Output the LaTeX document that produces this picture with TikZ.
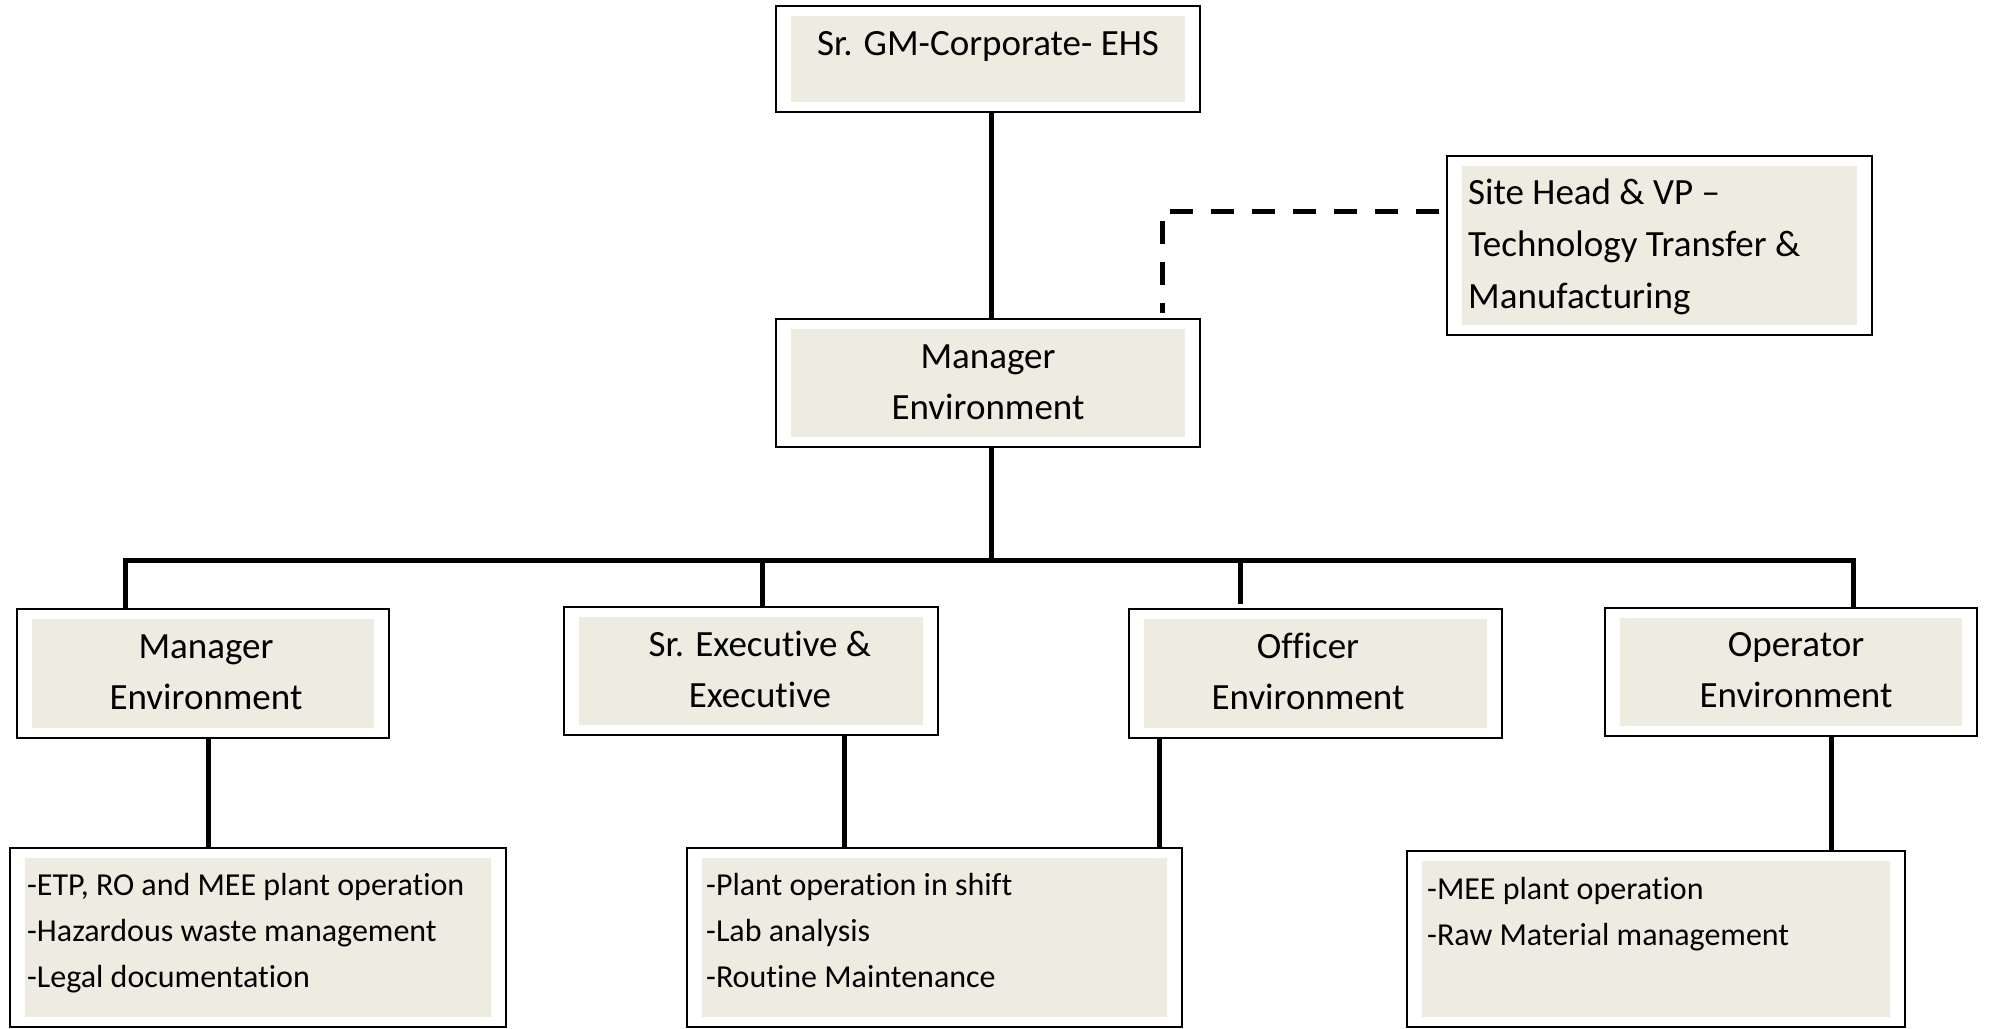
\documentclass[tikz,border=0pt]{standalone}
\usepackage{fontspec}
\setmainfont{Carlito}[Ligatures=CommonOff]
\definecolor{bg}{HTML}{EEECE1}
\newcommand\strutA{\rule{0pt}{30pt}}
\newcommand\strutB{\rule{0pt}{26pt}}
\begin{document}
\begin{tikzpicture}[x=1pt,y=-1pt,
  box/.style={draw=black, line width=2pt, fill=white, inner sep=0pt,
    path picture={\fill[bg] ([xshift=15pt,yshift=-10pt]path picture bounding box.north west) rectangle ([xshift=-15pt,yshift=10pt]path picture bounding box.south east);}},
  big/.style={font=\fontsize{37}{51}\selectfont, inner sep=0pt},
  small/.style={font=\fontsize{32}{46}\selectfont, inner sep=0pt, align=left, anchor=north west},
  conn/.style={line width=5pt},
  dashconn/.style={line width=5pt, dash pattern=on 23pt off 18pt}]
\useasboundingbox[fill=white] (0,0) rectangle (2002,1028);

% boxes
\node[box, minimum width=424pt, minimum height=106pt] (top) at (988,59) {};
\node[box, minimum width=424pt, minimum height=128pt] (mid) at (988,383) {};
\node[box, minimum width=425pt, minimum height=179pt] (site) at (1659.5,245.5) {};
\node[box, minimum width=372pt, minimum height=129pt] (A) at (203,673.5) {};
\node[box, minimum width=374pt, minimum height=128pt] (B) at (751,671) {};
\node[box, minimum width=373pt, minimum height=129pt] (C) at (1315.5,673.5) {};
\node[box, minimum width=372pt, minimum height=128pt] (D) at (1791,672) {};
\node[box, minimum width=496pt, minimum height=179pt] (E) at (258,937.5) {};
\node[box, minimum width=495pt, minimum height=179pt] (F) at (934.5,937.5) {};
\node[box, minimum width=498pt, minimum height=176pt] (G) at (1656,939) {};

% texts
\node[big, anchor=north] (ttop) at (988,25) {\strutA Sr. GM-Corporate- EHS};
\node[big, align=center, anchor=north] (tmid) at (988,338) {\strutA Manager\\Environment};
\node[big, align=left, anchor=north west, font=\fontsize{37}{52}\selectfont] (tsite) at (1468,174) {\strutA Site Head \& VP –\\Technology Transfer \&\\Manufacturing};
\node[big, align=center, anchor=north] (tA) at (206,628) {\strutA Manager\\Environment};
\node[big, align=center, anchor=north] (tB) at (760,626) {\strutA Sr. Executive \&\\Executive};
\node[big, align=center, anchor=north] (tC) at (1308,628) {\strutA Officer\\Environment};
\node[big, align=center, anchor=north] (tD) at (1796,626) {\strutA Operator\\Environment};
\node[small] (tE) at (27,869) {\strutB -ETP, RO and MEE plant operation\\-Hazardous waste management\\-Legal documentation};
\node[small] (tF) at (706,869) {\strutB -Plant operation in shift\\-Lab analysis\\-Routine Maintenance};
\node[small] (tG) at (1427,873) {\strutB -MEE plant operation\\-Raw Material management};

% connectors
\coordinate (bus) at (991,560);
\coordinate (bL) at (125,560);
\coordinate (bR) at (1853,560);
\coordinate (bB) at (762,560);
\coordinate (bC) at (1240,560);
\draw[conn] ([xshift=3pt]top.south) -- ([xshift=3pt]mid.north);
\draw[conn] ([xshift=3pt]mid.south) -- (bus);
\draw[conn] (bL |- A.north) -- (bL) -- (bR) -- (bR |- D.north);
\draw[conn] (bB) -- (bB |- B.north);
\draw[conn] (bC) -- ([yshift=4pt]bC |- C.north);
\draw[conn] ([xshift=5pt]A.south) -- ([xshift=5pt]A.south |- E.north);
\draw[conn] ([xshift=93pt]B.south) -- ([xshift=93pt]B.south |- F.north);
\draw[conn] ([xshift=-156.5pt]C.south) -- ([xshift=-156.5pt]C.south |- F.north);
\draw[conn] ([xshift=40pt]D.south) -- ([xshift=40pt]D.south |- G.north);

\coordinate (dS) at (1439,211);
\coordinate (dM) at (1162,313);
\draw[dashconn] (dS) -| (dM);
\end{tikzpicture}
\end{document}
